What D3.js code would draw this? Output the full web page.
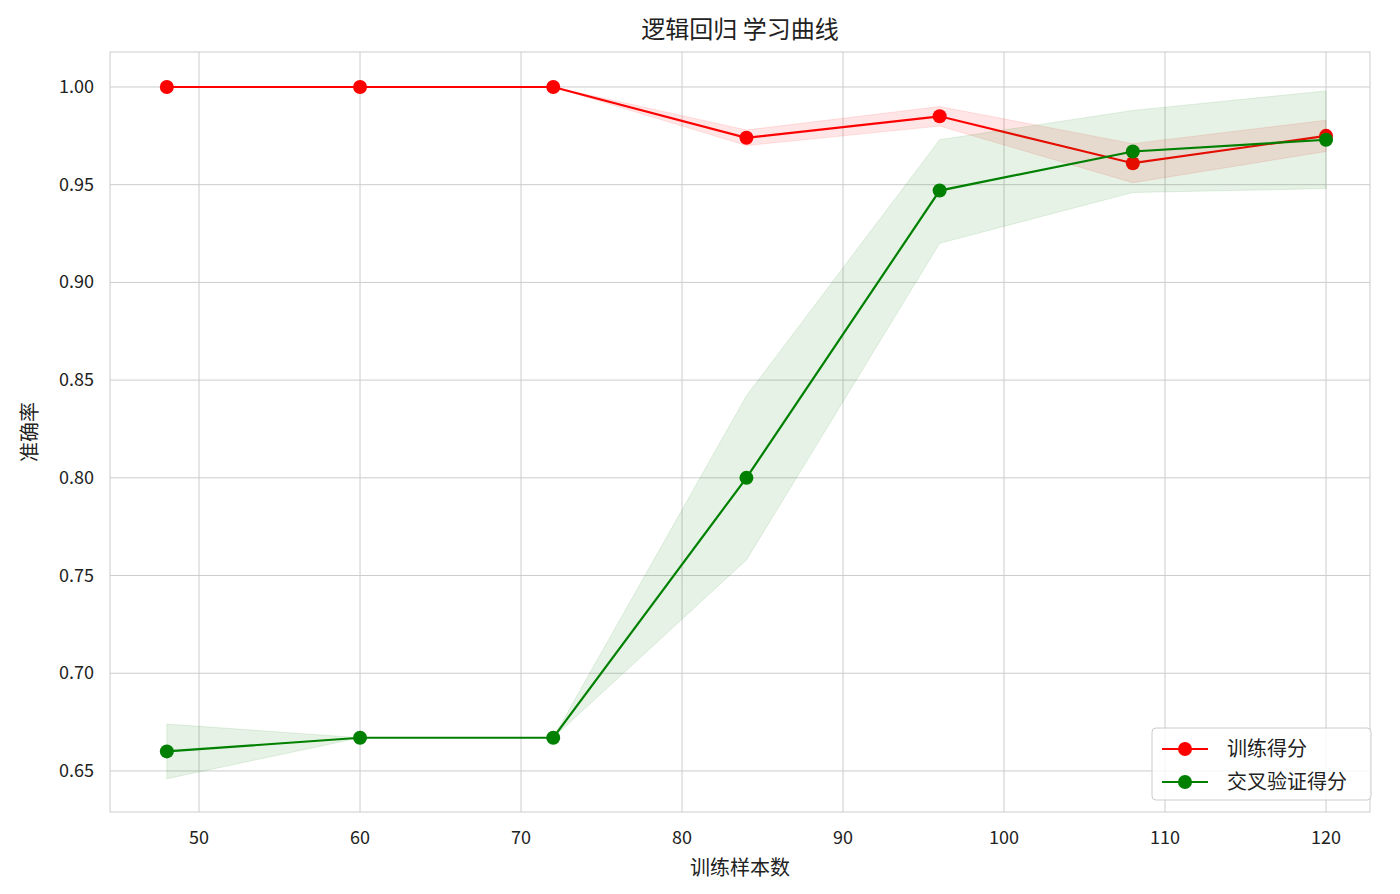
<!DOCTYPE html>
<html><head><meta charset="utf-8">
<script src="https://cdn.jsdelivr.net/npm/d3@7"></script>
<style>body{margin:0;background:#fff}text{font-family:"Noto Sans CJK SC",sans-serif}</style>
</head><body><svg id="c" width="1400" height="894"></svg>
<script>
const sizes=[48,60,72,84,96,108,120];
const trainMean=[1,1,1,0.974,0.985,0.961,0.975];
const trainLo=[1,1,1,0.970,0.980,0.951,0.967];
const trainHi=[1,1,1,0.978,0.990,0.971,0.983];
const valMean=[0.660,0.667,0.667,0.800,0.947,0.967,0.973];
const valLo=[0.646,0.667,0.667,0.758,0.920,0.946,0.948];
const valHi=[0.674,0.667,0.667,0.842,0.973,0.988,0.998];
const xTicks=[50,60,70,80,90,100,110,120];
const yTicks=[0.65,0.70,0.75,0.80,0.85,0.90,0.95,1.00];

const svg=d3.select("#c");
const L=110,R=1370,T=52,B=812;
const x=d3.scaleLinear().domain([44.47,122.73]).range([L,R]);
const y=d3.scaleLinear().domain([0.629,1.0179]).range([B,T]);
const g=svg.append("g");
xTicks.forEach(t=>g.append("line").attr("x1",x(t)).attr("x2",x(t)).attr("y1",T).attr("y2",B).attr("stroke","#cccccc"));
yTicks.forEach(t=>g.append("line").attr("x1",L).attr("x2",R).attr("y1",y(t)).attr("y2",y(t)).attr("stroke","#cccccc"));
g.append("rect").attr("x",L).attr("y",T).attr("width",R-L).attr("height",B-T).attr("fill","none").attr("stroke","#cccccc");
xTicks.forEach(t=>g.append("text").attr("x",x(t)).attr("y",B+32).attr("text-anchor","middle").attr("font-size",18).attr("fill","#222").text(t));
yTicks.forEach(t=>g.append("text").attr("x",L-16).attr("y",y(t)+6).attr("text-anchor","end").attr("font-size",18).attr("fill","#222").text(t.toFixed(2)));
svg.append("text").attr("x",(L+R)/2).attr("y",38).attr("text-anchor","middle").attr("font-size",24).attr("fill","#222").text("逻辑回归 学习曲线");
svg.append("text").attr("x",(L+R)/2).attr("y",875).attr("text-anchor","middle").attr("font-size",20).attr("fill","#222").text("训练样本数");
svg.append("text").attr("transform","translate(37,432) rotate(-90)").attr("text-anchor","middle").attr("font-size",20).attr("fill","#222").text("准确率");

function series(mean,lo,hi,col){
  const area=d3.area().x((d,i)=>x(sizes[i])).y0((d,i)=>y(lo[i])).y1((d,i)=>y(hi[i]));
  svg.append("path").attr("d",area(mean)).attr("fill",col).attr("fill-opacity",0.1).attr("stroke",col).attr("stroke-opacity",0.1);
  const line=d3.line().x((d,i)=>x(sizes[i])).y(d=>y(d));
  svg.append("path").attr("d",line(mean)).attr("fill","none").attr("stroke",col).attr("stroke-width",2.2);
  mean.forEach((d,i)=>svg.append("circle").attr("cx",x(sizes[i])).attr("cy",y(d)).attr("r",7).attr("fill",col));
}
series(trainMean,trainLo,trainHi,"red");
series(valMean,valLo,valHi,"green");

const lg=svg.append("g").attr("transform","translate(1152,728)");
lg.append("rect").attr("width",219).attr("height",72).attr("rx",4).attr("fill","#fff").attr("fill-opacity",0.8).attr("stroke","#ccc");
[["训练得分","red"],["交叉验证得分","green"]].forEach((d,i)=>{
  const yy=21+i*33;
  lg.append("line").attr("x1",10).attr("x2",56).attr("y1",yy).attr("y2",yy).attr("stroke",d[1]).attr("stroke-width",2.2);
  lg.append("circle").attr("cx",33).attr("cy",yy).attr("r",7).attr("fill",d[1]);
  lg.append("text").attr("x",75).attr("y",yy+7).attr("font-size",20).attr("fill","#222").text(d[0]);
});
</script></body></html>
